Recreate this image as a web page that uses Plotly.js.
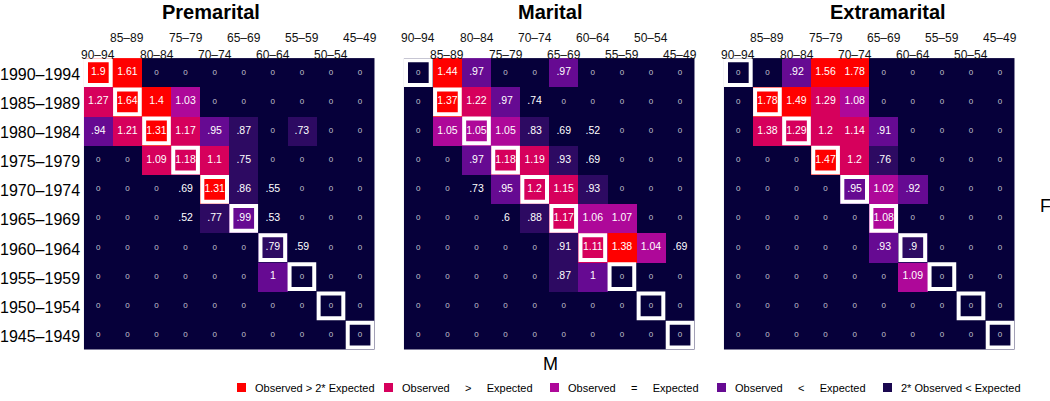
<!DOCTYPE html>
<html>
<head>
<meta charset="utf-8">
<script src="https://cdn.plot.ly/plotly-3.0.1.min.js"></script>
<style>html,body{margin:0;padding:0;background:#fff;}#chart{width:1050px;height:401px;}</style>
</head>
<body>
<div id="chart"></div>
<script>
// ---------- DATA ----------
const rowLabels = ['1990–1994','1985–1989','1980–1984','1975–1979','1970–1974','1965–1969','1960–1964','1955–1959','1950–1954','1945–1949'];
const colLabels = ['90–94','85–89','80–84','75–79','70–74','65–69','60–64','55–59','50–54','45–49'];
const panelTitles = ['Premarital','Marital','Extramarital'];

const premaritalValues = [
  [1.9,1.61,0,0,0,0,0,0,0,0],
  [1.27,1.64,1.4,1.03,0,0,0,0,0,0],
  [.94,1.21,1.31,1.17,.95,.87,0,.73,0,0],
  [0,0,1.09,1.18,1.1,.75,0,0,0,0],
  [0,0,0,.69,1.31,.86,.55,0,0,0],
  [0,0,0,.52,.77,.99,.53,0,0,0],
  [0,0,0,0,0,0,.79,.59,0,0],
  [0,0,0,0,0,0,1,0,0,0],
  [0,0,0,0,0,0,0,0,0,0],
  [0,0,0,0,0,0,0,0,0,0]
];
const maritalValues = [
  [0,1.44,.97,0,0,.97,0,0,0,0],
  [0,1.37,1.22,.97,.74,0,0,0,0,0],
  [0,1.05,1.05,1.05,.83,.69,.52,0,0,0],
  [0,0,.97,1.18,1.19,.93,.69,0,0,0],
  [0,0,.73,.95,1.2,1.15,.93,0,0,0],
  [0,0,0,.6,.88,1.17,1.06,1.07,0,0],
  [0,0,0,0,0,.91,1.11,1.38,1.04,.69],
  [0,0,0,0,0,.87,1,0,0,0],
  [0,0,0,0,0,0,0,0,0,0],
  [0,0,0,0,0,0,0,0,0,0]
];
const extramaritalValues = [
  [0,0,.92,1.56,1.78,0,0,0,0,0],
  [0,1.78,1.49,1.29,1.08,0,0,0,0,0],
  [0,1.38,1.29,1.2,1.14,.91,0,0,0,0],
  [0,0,0,1.47,1.2,.76,0,0,0,0],
  [0,0,0,0,.95,1.02,.92,0,0,0],
  [0,0,0,0,0,1.08,0,0,0,0],
  [0,0,0,0,0,.93,.9,0,0,0],
  [0,0,0,0,0,0,1.09,0,0,0],
  [0,0,0,0,0,0,0,0,0,0],
  [0,0,0,0,0,0,0,0,0,0]
];
// cell classes: N navy, D dark purple, P purple, M magenta, C crimson, R red
const premaritalClasses = [
  'RRNNNNNNNN','CRRMNNNNNN','PCRCPDNDNN','NNCCCDNNNN','NNNNRDNNNN',
  'NNNNDPNNNN','NNNNNNDNNN','NNNNNNPNNN','NNNNNNNNNN','NNNNNNNNNN'
];
const maritalClasses = [
  'NRPNNPNNNN','NRCPNNNNNN','NMMMDNNNNN','NNPCCDNNNN','NNNPCCDNNN',
  'NNNNDCMMNN','NNNNNDCRMN','NNNNNDPNNN','NNNNNNNNNN','NNNNNNNNNN'
];
const extramaritalClasses = [
  'NNPRRNNNNN','NRRCMNNNNN','NCCCCPNNNN','NNNRCDNNNN','NNNNPMPNNN',
  'NNNNNMNNNN','NNNNNPDNNN','NNNNNNMNNN','NNNNNNNNNN','NNNNNNNNNN'
];
const SP = '\u00a0\u00a0\u00a0\u00a0\u00a0';
const legendLabels = ['Observed > 2* Expected','Observed' + SP + '>' + SP + 'Expected','Observed' + SP + '=' + SP + 'Expected','Observed' + SP + '<' + SP + 'Expected','2* Observed < Expected'];
const legendClasses = ['R','C','M','P','L'];

// ---------- STYLE ----------
const palette = {N:'#06003A', D:'#2D0A62', P:'#660A92', M:'#AE0899', C:'#D6005C', R:'#FF0000', L:'#1A0850'};
const classOrder = ['N','D','P','M','C','R'];
const FONT = 'Liberation Sans, Arial, Helvetica, sans-serif';
const W = 1050, H = 401;
const px = x => x / W, py = y => 1 - y / H;

const panelLeft = [83.8, 403.8, 723.8];
const panelW = 290.8;
const gridTop = 58.1, gridBottom = 349.6;
const titleX = [211, 549.5, 887.5];
// which tier (0=upper,1=lower) gets even-index column labels
const evenTier = [1, 0, 1];

const colorscale = [];
classOrder.forEach((c, k) => {
  colorscale.push([k / classOrder.length, palette[c]]);
  colorscale.push([(k + 1) / classOrder.length, palette[c]]);
});

const values = [premaritalValues, maritalValues, extramaritalValues];
const classes = [premaritalClasses, maritalClasses, extramaritalClasses];

const fmt = v => String(v).replace(/^0\./, '.');

const data = [];
const shapes = [];
const annotations = [];
const layout = {
  width: W, height: H,
  margin: {l: 0, r: 0, t: 0, b: 0},
  paper_bgcolor: '#ffffff', plot_bgcolor: 'rgba(0,0,0,0)',
  showlegend: false,
  font: {family: FONT, color: '#000'},
  yaxis: {domain: [py(gridBottom), py(gridTop)], range: [9.5, -0.5], showgrid: false, zeroline: false,
          showticklabels: false, ticks: '', showline: false, anchor: 'x'}
};

const idx = [0,1,2,3,4,5,6,7,8,9];
for (let p = 0; p < 3; p++) {
  const xa = 'x' + (p ? p + 1 : '');
  const xkey = 'xaxis' + (p ? p + 1 : '');
  layout[xkey] = {domain: [px(panelLeft[p]), px(panelLeft[p] + panelW)], range: [-0.5, 9.5],
                  showgrid: false, zeroline: false, showticklabels: false, ticks: '', showline: false, anchor: 'y'};
  const z = classes[p].map(row => row.split('').map(c => classOrder.indexOf(c)));
  data.push({type: 'heatmap', x: idx, y: idx, z: z, xaxis: xa, yaxis: 'y',
             colorscale: colorscale, zmin: -0.5, zmax: classOrder.length - 0.5,
             showscale: false, hoverinfo: 'skip', xgap: 0, ygap: 0});
  // cell texts
  const tx = [], ty = [], tt = [], tc = [], ts = [];
  values[p].forEach((row, i) => row.forEach((v, j) => {
    tx.push(j); ty.push(i); tt.push(fmt(v));
    tc.push(v === 0 ? '#c4c4d0' : '#ffffff');
    ts.push(v === 0 ? 8 : 10.5);
  }));
  data.push({type: 'scatter', mode: 'text', x: tx, y: ty, text: tt, xaxis: xa, yaxis: 'y',
             textposition: 'middle center', textfont: {family: FONT, color: tc, size: ts}, hoverinfo: 'skip'});
  // diagonal frames
  const d = 2.2 / (panelW / 10);
  idx.forEach(i => {
    shapes.push({type: 'rect', xref: xa, yref: 'y', x0: i - 0.5 + d, x1: i + 0.5 - d,
                 y0: i - 0.5 + d, y1: i + 0.5 - d, line: {color: '#ffffff', width: 4}, layer: 'above'});
  });
  // title
  annotations.push({xref: 'paper', yref: 'paper', x: px(titleX[p]), y: py(12), text: '<b>' + panelTitles[p] + '</b>',
                    showarrow: false, xanchor: 'center', yanchor: 'middle', font: {family: FONT, size: 20, color: '#000'}});
  // column labels
  colLabels.forEach((lab, j) => {
    const tier = (j % 2 === 0) ? evenTier[p] : 1 - evenTier[p];
    annotations.push({xref: xa, yref: 'paper', x: j, y: py(tier === 0 ? 38.5 : 54.5), text: lab, showarrow: false,
                      xanchor: 'center', yanchor: 'middle', font: {family: FONT, size: 12, color: '#111'}});
  });
}
// row labels
rowLabels.forEach((lab, i) => {
  annotations.push({xref: 'paper', yref: 'y', x: px(81.5), y: i, yshift: -1.5, text: lab, showarrow: false,
                    xanchor: 'right', yanchor: 'middle', font: {family: FONT, size: 16, color: '#000'}});
});
// axis names
annotations.push({xref: 'paper', yref: 'paper', x: px(550), y: py(364), text: 'M', showarrow: false,
                  xanchor: 'center', yanchor: 'middle', font: {family: FONT, size: 18, color: '#000'}});
annotations.push({xref: 'paper', yref: 'paper', x: px(1045), y: py(206), text: 'F', showarrow: false,
                  xanchor: 'center', yanchor: 'middle', font: {family: FONT, size: 18, color: '#000'}});
// legend
const legendTextX = [253, 400, 566, 733, 899];
legendLabels.forEach((lab, k) => {
  const x0 = legendTextX[k] - 16;
  shapes.push({type: 'rect', xref: 'paper', yref: 'paper', x0: px(x0), x1: px(x0 + 9), y0: py(392), y1: py(383),
               fillcolor: palette[legendClasses[k]], line: {width: 0}});
  annotations.push({xref: 'paper', yref: 'paper', x: px(legendTextX[k]), y: py(388), text: lab, showarrow: false,
                    xanchor: 'left', yanchor: 'middle', font: {family: FONT, size: 11, color: '#000'}});
});

layout.shapes = shapes;
layout.annotations = annotations;

Plotly.newPlot('chart', data, layout, {staticPlot: true, displayModeBar: false});
</script>
</body>
</html>
